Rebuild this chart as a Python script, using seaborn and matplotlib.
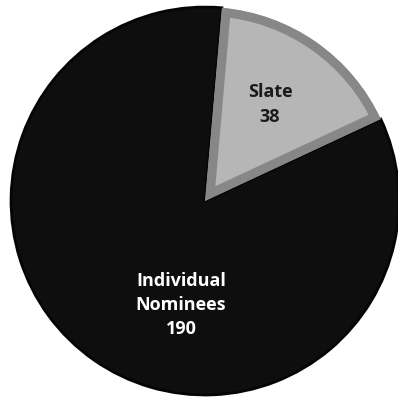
import numpy as np
import matplotlib
matplotlib.use("Agg")
import matplotlib.pyplot as plt
import seaborn as sns

categories = ["Slate", "Individual\nNominees"]
values = [38, 190]

sns.set_theme(style="white")
plt.rcParams['font.family'] = ['Open Sans', 'DejaVu Sans']

fig = plt.figure(figsize=(3.98, 4.03), dpi=100)
fig.patch.set_facecolor("white")
ax = fig.add_axes([0.0, 0.0, 1.0, 1.0])

colors = ["#b6b6b6", "#0e0e0e"]
edges = ["#878787", "#050505"]
widths = [13, 2]
wedges, _ = ax.pie(values, startangle=85, counterclock=False, colors=colors,
                   radius=1.0, wedgeprops=dict(linewidth=2))
for w, ec, lw in zip(wedges, edges, widths):
    w.set_edgecolor(ec)
    w.set_linewidth(lw)
    w.set_joinstyle("miter")
wedges[0].set_clip_on(True)
wedges[0].set_clip_path(wedges[0].get_path(), wedges[0].get_transform())
wedges[0].set_zorder(wedges[1].get_zorder() + 0.1)

text_colors = ["#1a1a1a", "white"]
label_r = [0.6, 0.55]
label_ang_offset = [1, 22]
for w, cat, v, tc, r, off in zip(wedges, categories, values, text_colors, label_r, label_ang_offset):
    ang = np.deg2rad((w.theta1 + w.theta2) / 2 + off)
    ax.text(r * np.cos(ang), r * np.sin(ang), f"{cat}\n{v}", ha="center", va="center",
            color=tc, fontsize=13, fontweight="bold", linespacing=1.45, zorder=5)

ax.set_xlim(-1.057, 0.995)
ax.set_ylim(-1.041, 1.036)
ax.set_aspect("equal")
ax.axis("off")
fig.savefig("out.png", dpi=100, facecolor="white")
